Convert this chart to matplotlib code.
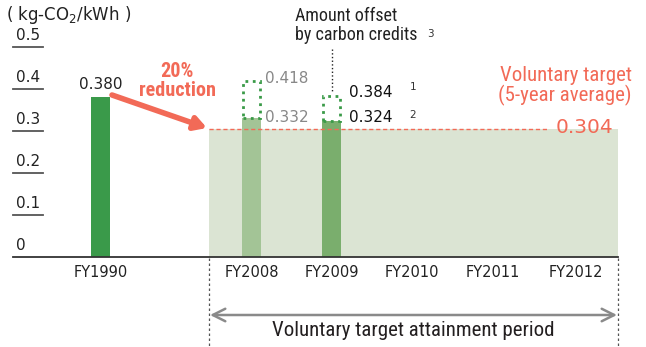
import matplotlib.pyplot as plt
from matplotlib.patches import Rectangle

plt.rcParams['font.family'] = ['DejaVu Sans']

# emission factor data (kg-CO2/kWh)
years = ['FY1990', 'FY2008', 'FY2009', 'FY2010', 'FY2011', 'FY2012']
xpos = [0, 1.87, 2.86, 3.86, 4.86, 5.88]
actual = [0.380, 0.332, 0.324]          # bars drawn for first three years
before_credit = [None, 0.418, 0.384]    # value before carbon-credit offset
target = 0.304
yticks = [0, 0.1, 0.2, 0.3, 0.4, 0.5]

bar_colors = ['#3a9a4a', '#a3c496', '#7aae6d']
salmon = '#f26a57'
narrow = ['Roboto Condensed', 'DejaVu Sans']

W, H = 646, 347
fig = plt.figure(figsize=(W / 100, H / 100), dpi=100)


def px(x, y):
    return (x / W, 1 - y / H)


ax = fig.add_axes([13 / W, 90 / H, 605 / W, 210 / H])
ax.set_xlim(-1.083, 6.405)
ax.set_ylim(0, 0.5)
for s in ['top', 'right', 'left']:
    ax.spines[s].set_visible(False)
ax.spines['bottom'].set_color('#333333')
ax.spines['bottom'].set_linewidth(1.3)
ax.set_xticks([])
ax.set_yticks([])

# target period shading + target line
ax.axvspan(1.343, 6.405, ymax=target / 0.5, color='#dbe4d3', lw=0, zorder=0)
ax.plot([1.343, 5.54], [target, target], ls=(0, (3, 2)), color=salmon, lw=1, zorder=3)

# bars
bw = 0.235
for i, v in enumerate(actual):
    ax.bar(xpos[i], v, width=bw, color=bar_colors[i], zorder=2)
    if before_credit[i] is not None:
        ax.add_patch(Rectangle((xpos[i] - bw / 2 + 0.01, v), bw - 0.02, before_credit[i] - v,
                               fill=False, ls=':', lw=2, edgecolor='#3a9a48', zorder=3))

# y "ticks": short underlines with the labels sitting on them
for t in yticks:
    if t > 0:
        ax.plot([-1.083, -0.71], [t, t], color='#555555', lw=1.3, clip_on=False)
    ax.annotate('0' if t == 0 else f'{t:.1f}', (-1.083, t), xytext=(2, 3),
                textcoords='offset points', ha='left', va='bottom',
                fontsize=11, color='#222222', annotation_clip=False)

# x labels
for x, lab in zip(xpos, years):
    ax.text(x, -0.036, lab, ha='center', va='center', fontsize=10.5, color='#222222')

# value labels
ax.text(xpos[0], 0.393, '0.380', ha='center', va='bottom', fontsize=11, color='#222222')
ax.text(xpos[1] + 0.17, before_credit[1] + 0.006, f'{before_credit[1]:.3f}', ha='left', va='center',
        fontsize=11, color='#888888')
ax.text(xpos[1] + 0.17, actual[1] + 0.001, f'{actual[1]:.3f}', ha='left', va='center',
        fontsize=11, color='#888888')
ax.text(xpos[2] + 0.22, before_credit[2] + 0.008, f'{before_credit[2]:.3f}', ha='left', va='center',
        fontsize=11, color='#111111')
ax.text(xpos[2] + 0.22, actual[2] + 0.007, f'{actual[2]:.3f}', ha='left', va='center',
        fontsize=11, color='#111111')
ax.text(5.63, target + 0.004, f'{target:.3f}', ha='left', va='center',
        fontsize=14.5, color=salmon)

# footnote markers
fig.text(*px(413, 92), '1', fontsize=7.5, color='#333333', va='bottom', ha='center')
fig.text(*px(413, 120), '2', fontsize=7.5, color='#333333', va='bottom', ha='center')
fig.text(*px(430, 39), '3', fontsize=7.5, color='#333333', va='bottom', ha='center')

# unit
fig.text(*px(6, 15), '( kg-CO$_2$/kWh )', fontsize=12, color='#222222', va='center', ha='left')

# carbon credit callout
fig.text(*px(295, 7), 'Amount offset\nby carbon credits', family=narrow, fontsize=13,
         color='#222222', ha='left', va='top', linespacing=1.05)
fig.add_artist(plt.Line2D([332 / W, 332 / W], [1 - 49 / H, 1 - 92 / H], ls=':', color='#222222', lw=1))

# reduction arrow
fig.text(*px(177, 81), '20%\nreduction', family=narrow, fontsize=14.5, fontweight='bold',
         color=salmon, ha='center', va='center', linespacing=1.0)
ax.annotate('', xy=px(207, 128), xycoords='figure fraction', xytext=px(112, 95),
            textcoords='figure fraction',
            arrowprops=dict(arrowstyle='-|>,head_length=0.7,head_width=0.4', lw=4, color=salmon,
                            shrinkA=0, shrinkB=0))

fig.text(*px(632, 86), 'Voluntary target\n(5-year average)', family=narrow, fontsize=15,
         color=salmon, ha='right', va='center', linespacing=1.05)

# attainment period
for xp in [209, 618]:
    fig.add_artist(plt.Line2D([xp / W, xp / W], [1 - 258 / H, 0], ls=(0, (2, 2)),
                              color='#555555', lw=0.9))
ax.annotate('', xy=px(617, 315), xycoords='figure fraction', xytext=px(210, 315),
            textcoords='figure fraction',
            arrowprops=dict(arrowstyle='<->,head_length=0.9,head_width=0.45', lw=1.8,
                            color='#8a8a8a', shrinkA=0, shrinkB=0))
fig.text(*px(413, 330), 'Voluntary target attainment period', family=narrow, fontsize=15,
         color='#231f20', ha='center', va='center')

fig.savefig('out.png', dpi=100)
